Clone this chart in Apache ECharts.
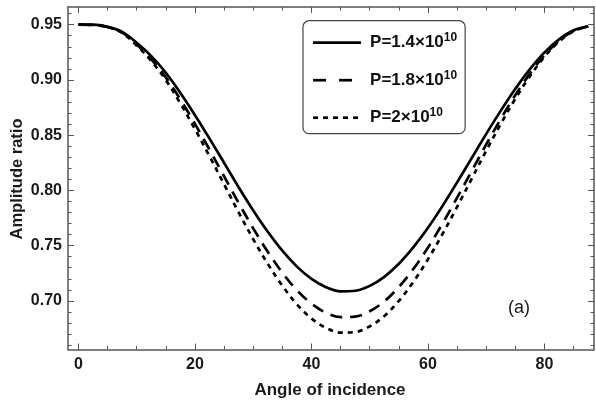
<!DOCTYPE html>
<html>
<head>
<meta charset="utf-8">
<script src="https://cdn.jsdelivr.net/npm/echarts@6/dist/echarts.min.js"></script>
<style>
html,body{margin:0;padding:0;background:#fff;}
#chart{width:596px;height:403px;}
</style>
</head>
<body>
<div id="chart"></div>
<script>
// Angle of incidence (degrees)
const angles = [0,2.5,5,7.5,10,12.5,15,17.5,20,22.5,25,27.5,30,32.5,35,37.5,40,42.5,45,47.5,50,52.5,55,57.5,60,62.5,65,67.5,70,72.5,75,77.5,80,82.5,85,87.5];
// Amplitude ratio for each P
const ampP14 = [0.950,0.950,0.948,0.9435,0.9336,0.9215,0.9065,0.8882,0.8681,0.8469,0.8249,0.8029,0.7819,0.7626,0.7454,0.7310,0.7199,0.7124,0.7087,0.7092,0.7136,0.7218,0.7336,0.7486,0.7662,0.7860,0.8073,0.8292,0.8512,0.8722,0.8920,0.9097,0.9249,0.9367,0.9449,0.9486];
const ampP18 = [0.950,0.9497,0.9479,0.9428,0.9320,0.9187,0.9023,0.8822,0.8602,0.8368,0.8127,0.7886,0.7656,0.7444,0.7255,0.7096,0.6975,0.6892,0.6853,0.6858,0.6906,0.6996,0.7126,0.7290,0.7483,0.7701,0.7934,0.8175,0.8416,0.8647,0.8864,0.9057,0.9224,0.9354,0.9444,0.9484];
const ampP20 = [0.950,0.9497,0.9478,0.9425,0.9310,0.9171,0.8998,0.8786,0.8554,0.8309,0.8055,0.7801,0.7558,0.7335,0.7137,0.6969,0.6841,0.6755,0.6713,0.6718,0.6769,0.6863,0.7000,0.7173,0.7377,0.7606,0.7851,0.8105,0.8359,0.8602,0.8830,0.9034,0.9210,0.9347,0.9441,0.9483];
const seriesNames = ['P=1.4×10|10','P=1.8×10|10','P=2×10|10'];
// Tick values
const xMajor = [0,20,40,60,80];
const xMinor = [5,10,15,25,30,35,45,50,55,65,70,75,85];
const yMajor = [0.70,0.75,0.80,0.85,0.90,0.95];
const yMinor = [0.66,0.67,0.68,0.69,0.71,0.72,0.73,0.74,0.76,0.77,0.78,0.79,0.81,0.82,0.83,0.84,0.86,0.87,0.88,0.89,0.91,0.92,0.93,0.94,0.96];

const FONT = '"Liberation Sans", Arial, sans-serif';
const AX = '#555555';
const xMin = -1.8, xMax = 88.5, yMin = 0.656, yMax = 0.966;

function xAx(pos, ticks, len, showLine, showLabel) {
  return {
    type: 'value', position: pos, min: xMin, max: xMax,
    axisLine: {show: showLine, onZero: false, lineStyle: {color: AX, width: 1.5}},
    axisTick: {show: true, inside: true, length: len, customValues: ticks, lineStyle: {color: AX, width: 1}},
    axisLabel: {show: showLabel, customValues: ticks, margin: 7, color: '#1a1a1a', fontFamily: FONT, fontWeight: 'bold', fontSize: 16},
    splitLine: {show: false}
  };
}
function yAx(pos, ticks, len, showLine, showLabel) {
  return {
    type: 'value', position: pos, min: yMin, max: yMax,
    axisLine: {show: showLine, onZero: false, lineStyle: {color: AX, width: 1.5}},
    axisTick: {show: true, inside: true, length: len, customValues: ticks, lineStyle: {color: AX, width: 1}},
    axisLabel: {show: showLabel, customValues: ticks, margin: 6, color: '#1a1a1a', fontFamily: FONT, fontWeight: 'bold', fontSize: 16,
      formatter: v => v.toFixed(2)},
    splitLine: {show: false}
  };
}

const lineTypes = ['solid', [12, 8], [5, 5]];
const legendTypes = ['solid', [13, 13], [5, 5]];
const datasets = [ampP14, ampP18, ampP20];

const series = datasets.map((arr, i) => ({
  name: seriesNames[i],
  type: 'line',
  xAxisIndex: 0, yAxisIndex: 0,
  data: angles.map((a, k) => [a, arr[k]]),
  smooth: 0.35,
  symbol: 'none',
  lineStyle: {color: '#000', width: 2.7, type: lineTypes[i]},
  itemStyle: {color: '#000'},
  z: 5 - i
}));

const chart = echarts.init(document.getElementById('chart'), null, {renderer: 'canvas'});
chart.setOption({
  animation: false,
  backgroundColor: '#fff',
  grid: {left: 68, right: 2, top: 7, bottom: 53.5, containLabel: false},
  xAxis: [
    xAx('bottom', xMajor, 6, true, true),
    xAx('bottom', xMinor, 3.5, false, false),
    xAx('top', xMajor, 6, true, false),
    xAx('top', xMinor, 3.5, false, false)
  ],
  yAxis: [
    yAx('left', yMajor, 6, true, true),
    yAx('left', yMinor, 3.5, false, false),
    yAx('right', yMajor, 6, true, false),
    yAx('right', yMinor, 3.5, false, false)
  ],
  legend: {
    orient: 'vertical',
    left: 303, top: 20.7,
    padding: [11, 8, 5, 8.7],
    itemWidth: 48, itemHeight: 14,
    itemGap: 15.5,
    borderColor: '#444', borderWidth: 1.2, borderRadius: 6,
    backgroundColor: '#fff',
    itemStyle: {opacity: 0},
    data: seriesNames.map((n, i) => ({
      name: n,
      itemStyle: {opacity: 0},
      lineStyle: {type: legendTypes[i], width: 2.7, color: '#000'}
    })),
    formatter: n => {
      const p = n.split('|');
      return '{b|' + p[0] + '}{s|' + p[1] + '}';
    },
    textStyle: {
      rich: {
        b: {fontFamily: FONT, fontWeight: 'bold', fontSize: 17, color: '#111', lineHeight: 20, padding: [0, 0, 0, 4]},
        s: {fontFamily: FONT, fontWeight: 'bold', fontSize: 12, color: '#111', lineHeight: 20, padding: [0, 0, 10, 0]}
      }
    }
  },
  graphic: [
    {type: 'text', x: 330, y: 390, style: {text: 'Angle of incidence', font: 'bold 17px ' + FONT, fill: '#1a1a1a', textAlign: 'center', textVerticalAlign: 'middle'}},
    {type: 'text', rotation: Math.PI / 2, x: 17, y: 179, style: {text: 'Amplitude ratio', font: 'bold 16.5px ' + FONT, fill: '#1a1a1a', textAlign: 'center', textVerticalAlign: 'middle'}},
    {type: 'text', x: 519, y: 308, style: {text: '(a)', font: '18px ' + FONT, fill: '#1a1a1a', textAlign: 'center', textVerticalAlign: 'middle'}}
  ],
  series: series
});
</script>
</body>
</html>
